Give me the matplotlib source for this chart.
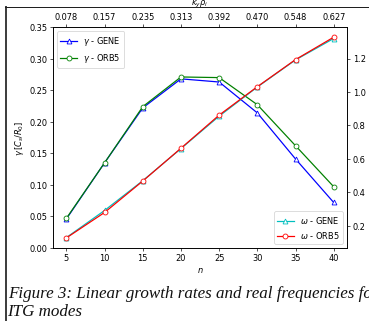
import numpy as np
import matplotlib
matplotlib.use("Agg")
import matplotlib.pyplot as plt
from matplotlib.lines import Line2D

# ----- data ----- #
n = [5, 10, 15, 20, 25, 30, 35, 40]
gamma_gene = [0.046, 0.135, 0.222, 0.268, 0.263, 0.214, 0.141, 0.072]
gamma_orb5 = [0.047, 0.135, 0.224, 0.271, 0.270, 0.227, 0.162, 0.097]
omega_gene = [0.130, 0.292, 0.470, 0.662, 0.856, 1.030, 1.192, 1.320]
omega_orb5 = [0.128, 0.280, 0.468, 0.664, 0.862, 1.032, 1.194, 1.328]
top_labels = ["0.078", "0.157", "0.235", "0.313", "0.392", "0.470", "0.548", "0.627"]

caption_1 = "Figure 3: Linear growth rates and real frequencies for"
caption_2 = "ITG modes"

# ----- figure (small dpi so default font sizes shrink like the screenshot) ----- #
DPI = 59
W, H = 369, 321
fig = plt.figure(figsize=((W + 0.4) / DPI, (H + 0.4) / DPI), dpi=DPI)

ax = fig.add_axes([53 / W, 1 - 248 / H, (346.7 - 53) / W, (248 - 27.5) / H])
ax.plot(n, gamma_gene, color='b', marker='^', mfc='white', label=r'$\gamma$ - GENE')
ax.plot(n, gamma_orb5, color='g', marker='o', mfc='white', label=r'$\gamma$ - ORB5')
ax.set_ylim(0, 0.35)
ax.set_xlabel(r'$n$')
ax.set_ylabel(r'$\gamma\,[C_s/R_0]$')
ax.legend(loc='upper left')

# Right axis: real frequencies
ax2 = ax.twinx()
ax2.plot(n, omega_gene, color='c', marker='^', mfc='white', label=r'$\omega$ - GENE')
ax2.plot(n, omega_orb5, color='r', marker='o', mfc='white', label=r'$\omega$ - ORB5')
ax2.legend(loc='lower right')

# Top axis: k_y rho (its label is mostly cut off by the page crop)
ax3 = ax.twiny()
ax3.set_xlim(ax.get_xlim())
ax3.set_xticks(n)
ax3.set_xticklabels(top_labels)
ax3.set_xlabel(r'$k_y\rho_i$', labelpad=9)

# ----- page frame and caption of the document screenshot ----- #
px = lambda x, y: (x / W, 1 - y / H)
fig.add_artist(Line2D([6 / W, 6 / W], [0, 1 - 7 / H], color='#404040', lw=2.0 * 72 / DPI))
fig.add_artist(Line2D([5 / W, 1], [1 - 7 / H, 1 - 7 / H], color='#202020', lw=1.0 * 72 / DPI))

cap_size = 17 * 72 / DPI
fig.text(*px(8, 298), caption_1, family='Liberation Serif', style='italic',
         fontsize=cap_size, color='#111111', va='baseline')
fig.text(*px(7, 316), caption_2, family='Liberation Serif', style='italic',
         fontsize=cap_size, color='#111111', va='baseline')

fig.savefig('out.png', dpi=DPI)
